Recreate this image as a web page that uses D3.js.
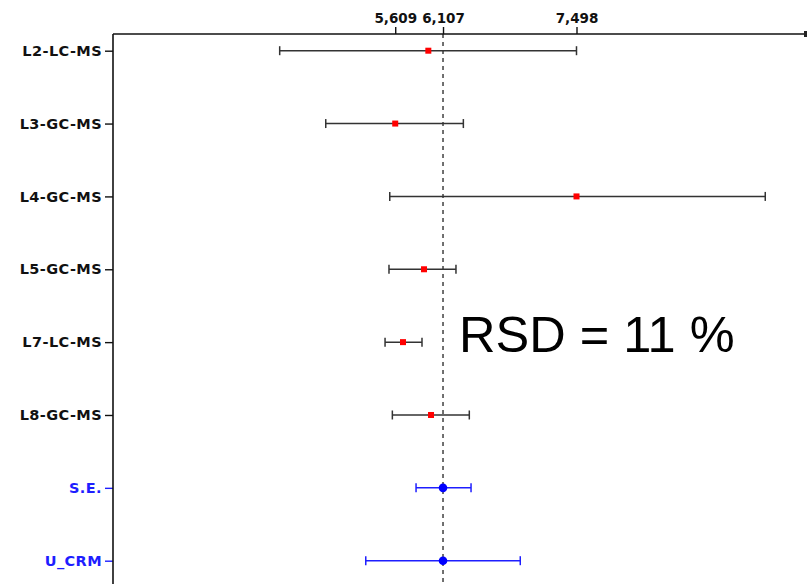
<!DOCTYPE html>
<html>
<head>
<meta charset="utf-8">
<script src="https://cdn.jsdelivr.net/npm/d3@7"></script>
<style>
  body { margin: 0; background: #fff; }
  svg { display: block; }
</style>
</head>
<body>
<div id="chart-area"></div>
<script>
/* Data */
const labs = ['L2-LC-MS', 'L3-GC-MS', 'L4-GC-MS', 'L5-GC-MS', 'L7-LC-MS', 'L8-GC-MS', 'S.E.', 'U_CRM']
const means = [5954, 5609, 7498, 5909, 5690, 5982, 6107, 6107]
const lows = [4405, 4885, 5552, 5544, 5503, 5579, 5826, 5302]
const highs = [7498, 6319, 9465, 6242, 5888, 6381, 6399, 6912]
const refLine = 6107
const tickVals = [5609, 6107, 7498]
const summaryRows = ['S.E.', 'U_CRM']

const rows = labs.map((lab, i) => ({ lab, mean: means[i], low: lows[i], high: highs[i] }))

/* Canvas */
const W = 807
const H = 584
const margin = { top: 34, left: 113 }

const $svg = d3.select('#chart-area')
  .append('svg')
  .attr('width', W)
  .attr('height', H)

const isSummary = lab => summaryRows.includes(lab)
const colOf = lab => isSummary(lab) ? '#1e1eff' : '#111'

/* Scales */
const x = d3.scaleLinear()
  .domain([2668, 9900])
  .range([margin.left, W])

const y = d3.scalePoint()
  .domain(labs)
  .range([50.7, 560.7])

// reference dashed line
$svg.append('line')
  .attr('x1', x(refLine)).attr('x2', x(refLine))
  .attr('y1', margin.top).attr('y2', H)
  .attr('stroke', '#333')
  .attr('stroke-width', 1.4)
  .attr('stroke-dasharray', '4,4')

/* Axes */
const $xAxis = $svg.append('g')
  .attr('transform', `translate(0, ${margin.top})`)
  .call(d3.axisTop(x).tickValues(tickVals).tickFormat(d3.format(',')).tickSize(7))
$xAxis.select('.domain').remove()
$xAxis.selectAll('.tick line').attr('stroke', '#111').attr('stroke-width', 1.4)
$xAxis.selectAll('.tick text')
  .attr('y', -11)
  .attr('font-family', 'DejaVu Sans')
  .attr('font-weight', 'bold')
  .attr('font-size', 13.5)
  .attr('fill', '#111')

$svg.append('line')
  .attr('x1', margin.left).attr('x2', W - 1)
  .attr('y1', margin.top).attr('y2', margin.top)
  .attr('stroke', '#111').attr('stroke-width', 1.6)
$svg.append('rect')
  .attr('x', W - 3).attr('y', margin.top - 3)
  .attr('width', 3).attr('height', 6)
  .attr('fill', '#222')

const $yAxis = $svg.append('g')
  .attr('transform', `translate(${margin.left}, 0)`)
  .call(d3.axisLeft(y).tickSize(8).tickPadding(3))
$yAxis.select('.domain').remove()
$yAxis.selectAll('.tick line')
  .attr('stroke', d => colOf(d))
  .attr('stroke-width', 1.4)
$yAxis.selectAll('.tick text')
  .attr('font-family', 'DejaVu Sans')
  .attr('font-weight', 'bold')
  .attr('font-size', 14.5)
  .attr('letter-spacing', 0.4)
  .attr('fill', d => colOf(d))

$svg.append('line')
  .attr('x1', margin.left).attr('x2', margin.left)
  .attr('y1', margin.top).attr('y2', H)
  .attr('stroke', '#111').attr('stroke-width', 1.6)

/* Error bars */
const $bars = $svg.append('g')
  .selectAll('g')
  .data(rows)
  .enter()
  .append('g')
  .attr('stroke', d => isSummary(d.lab) ? '#1e1eff' : '#333')
  .attr('stroke-width', 1.5)

$bars.append('line')
  .attr('x1', d => x(d.low)).attr('x2', d => x(d.high))
  .attr('y1', d => y(d.lab)).attr('y2', d => y(d.lab))
$bars.append('line')
  .attr('x1', d => x(d.low)).attr('x2', d => x(d.low))
  .attr('y1', d => y(d.lab) - 4.5).attr('y2', d => y(d.lab) + 4.5)
$bars.append('line')
  .attr('x1', d => x(d.high)).attr('x2', d => x(d.high))
  .attr('y1', d => y(d.lab) - 4.5).attr('y2', d => y(d.lab) + 4.5)

// points
$svg.append('g')
  .selectAll('rect')
  .data(rows.filter(d => !isSummary(d.lab)))
  .enter()
  .append('rect')
  .attr('x', d => x(d.mean) - 3)
  .attr('y', d => y(d.lab) - 3)
  .attr('width', 6)
  .attr('height', 6)
  .attr('fill', '#ff0000')

$svg.append('g')
  .selectAll('circle')
  .data(rows.filter(d => isSummary(d.lab)))
  .enter()
  .append('circle')
  .attr('cx', d => x(d.mean))
  .attr('cy', d => y(d.lab))
  .attr('r', 4.3)
  .attr('fill', '#0000ff')

/* Annotation */
$svg.append('text')
  .attr('x', 459)
  .attr('y', 352)
  .attr('font-family', 'Liberation Sans, Arial, sans-serif')
  .attr('font-size', 50.5)
  .attr('fill', '#000')
  .text('RSD = 11 %')
</script>
</body>
</html>
